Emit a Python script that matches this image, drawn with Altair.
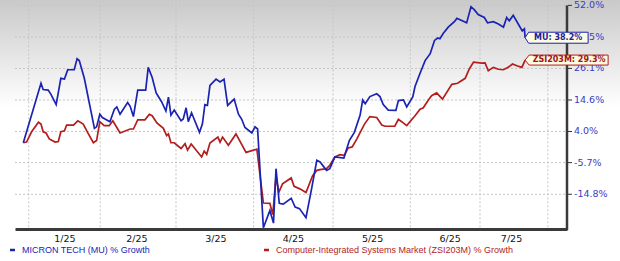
import altair as alt
import pandas as pd

# ---------------- data ----------------
# x unit: trading-session index from the start of the series
mu_t = [0.0, 4.9, 5.5, 6.9, 7.7, 9.1, 10.4, 11.4, 12.3, 14.1, 14.9, 15.5, 16.9, 19.7, 20.3, 21.2, 21.9, 24.0,
        25.2, 25.9, 26.8, 28.9, 29.6, 30.5, 31.7, 33.9, 34.6, 35.7, 36.8, 38.3, 39.5, 40.2, 40.9, 41.8, 43.7,
        44.3, 45.1, 45.7, 46.6, 48.8, 49.6, 50.3, 51.0, 51.7, 53.4, 54.5, 55.6, 56.6, 58.4, 59.6, 60.5, 61.4,
        63.3, 64.2, 64.9, 66.5, 68.3, 69.3, 70.0, 70.9, 72.0, 74.2, 75.3, 76.5, 78.3, 79.9, 81.3, 82.2, 84.0,
        84.9, 86.3, 88.8, 90.3, 91.7, 93.3, 94.0, 94.7, 96.0, 97.9, 98.8, 99.7, 101.1, 103.2, 103.9, 105.3,
        106.2, 107.9, 108.5, 109.9, 111.3, 112.7, 113.9, 114.8, 115.4, 116.3, 117.7, 119.4, 120.1, 121.0,
        122.8, 124.0, 124.9, 126.0, 127.7, 128.6, 130.2, 131.6, 133.0, 133.9, 134.6, 135.7, 137.1, 138.2,
        138.8, 139.0]
mu_g = [0.4, 20.6, 18.3, 18.1, 16.5, 13.0, 22.4, 22.1, 25.6, 25.6, 29.8, 29.1, 22.4, 5.0, 5.5, 9.7, 8.6, 7.2,
        11.3, 12.2, 9.7, 13.7, 12.4, 8.9, 18.1, 18.1, 26.5, 22.7, 17.1, 14.0, 10.8, 15.6, 9.4, 11.1, 7.5,
        8.1, 11.9, 7.2, 10.2, 3.7, 6.4, 13.0, 12.7, 19.8, 22.1, 21.1, 22.1, 12.7, 14.9, 9.7, 8.0, 5.3,
        3.5, 5.5, 4.8, -23.7, -19.2, -22.5, -7.5, -17.3, -17.5, -15.9, -18.3, -18.7, -21.1, -13.0, -5.0, -5.5, -8.0,
        -7.5, -4.0, -4.3, 1.1, 3.7, 9.4, 14.6, 13.3, 15.8, 16.8, 15.8, 13.0, 11.1, 11.0, 14.4, 14.6,
        12.2, 15.8, 19.4, 24.3, 29.1, 31.8, 37.1, 38.1, 37.8, 39.9, 42.6, 44.9, 46.3, 45.7,
        44.4, 51.4, 50.1, 48.0, 46.7, 44.4, 44.9, 43.9, 42.6, 46.7, 45.3, 47.6, 43.9, 41.0,
        41.9, 38.2]

zsi_t = [0.0, 0.9, 2.3, 4.2, 4.9, 5.5, 6.3, 7.2, 8.8, 9.7, 10.4, 11.4, 12.0, 13.9, 15.1, 16.6, 17.8, 19.4,
         20.3, 21.2, 22.4, 23.8, 24.8, 25.9, 26.8, 29.6, 30.5, 31.7, 33.7, 34.9, 35.7, 37.0, 38.8, 39.7, 40.2,
         40.9, 41.8, 43.7, 44.8, 45.5, 46.5, 49.4, 50.1, 50.8, 51.7, 53.9, 54.5, 55.2, 56.8, 58.9, 61.7, 64.7,
         66.5, 68.3, 69.1, 70.0, 70.8, 71.8, 74.2, 75.0, 76.6, 78.3, 80.1, 81.3, 82.2, 84.0, 84.9, 86.3, 87.7,
         88.9, 90.0, 91.1, 92.4, 94.5, 96.0, 97.9, 99.3, 100.2, 102.9, 103.9, 104.8, 106.2, 108.5, 109.9,
         110.8, 112.2, 113.1, 114.5, 116.1, 118.7, 120.3, 122.4, 123.5, 124.7, 127.0, 127.9, 128.8, 130.2,
         131.6, 133.0, 134.3, 135.5, 136.7, 138.1, 139.0]
zsi_g = [0.4, 0.6, 3.9, 7.0, 6.4, 3.9, 3.5, 1.6, 0.6, 0.8, 3.9, 4.2, 6.1, 6.1, 7.5, 6.4, 3.7, 0.4,
         1.1, 7.2, 5.9, 5.9, 7.5, 5.3, 3.5, 4.8, 4.8, 7.8, 7.8, 9.7, 9.2, 6.8, 5.0, 2.7, 3.2,
         0.4, 0.4, -1.4, 0.1, -1.9, 0.0, -4.0, -2.2, -3.2, 0.3, 2.2, 0.6, 2.2, -0.4, 3.2, -2.6, -1.6,
         -17.2, -17.3, -20.3, -9.8, -14.2, -11.9, -10.2, -12.6, -13.3, -14.3, -9.6, -8.0, -7.8, -7.5, -6.5, -4.0, -3.3,
         -3.5, -1.2, -0.9, 1.6, 6.4, 8.9, 8.6, 6.1, 5.7, 5.7, 8.0, 7.2, 5.9, 9.2, 11.4,
         11.9, 14.6, 16.1, 17.1, 14.9, 20.2, 20.6, 22.4, 25.8, 28.5, 28.1, 28.2, 25.2, 26.5,
         25.8, 25.6, 26.5, 27.8, 27.1, 26.5, 29.3]

short_names = ["MU", "ZSI203M"]
series_names = ["MICRON TECH (MU) % Growth",
                "Computer-Integrated Systems Market (ZSI203M) % Growth"]
colors = ["#1b23b3", "#b31d1d"]
label_text_colors = ["#1c1c96", "#a01414"]

y_ticks = [52.0, 38.5, 26.1, 14.6, 4.0, -5.7, -14.8]
x_labels = ["1/25", "2/25", "3/25", "4/25", "5/25", "6/25", "7/25"]
x_label_pos = [11.4, 31.3, 53.2, 74.7, 96.6, 118.1, 135.1]
x_grid_pos = [1.5, 21.3, 42.3, 63.8, 85.8, 107.2, 126.5, 145.3]

OFFSET = 125.0  # ratio-scale offset used by the axis
X_DOMAIN = [-2.3, 150.6]
Y_DOMAIN_G = [-24.0, 54.4]

# ---------------- layout ----------------
W, H = 552, 229
FONT = "DejaVu Sans"
GRID = "#c4c4c4"

rows = [{"t": t, "g": g, "s": short_names[0]} for t, g in zip(mu_t, mu_g)] + \
       [{"t": t, "g": g, "s": short_names[1]} for t, g in zip(zsi_t, zsi_g)]
df = pd.DataFrame(rows)

xscale = alt.Scale(domain=X_DOMAIN, nice=False, zero=False)
yscale = alt.Scale(type="log", domain=[Y_DOMAIN_G[0] + OFFSET, Y_DOMAIN_G[1] + OFFSET], nice=False, zero=False)

x_expr = "[" + ",".join(f"'{s}'" for s in x_labels) + "][indexof([" + ",".join(repr(v) for v in x_label_pos) + "], datum.value)]"

ax_x = alt.Axis(orient="bottom", values=x_label_pos, labelExpr=x_expr, ticks=False, grid=False,
                domain=True, domainColor="#3a3a3a", domainWidth=3, title=None,
                labelColor="#111111", labelFont=FONT, labelFontSize=9.5, labelPadding=4,
                labelAngle=0)

X = lambda f: alt.X(f, scale=xscale, axis=ax_x)
Y = lambda f: alt.Y(f, scale=yscale, axis=None)

# background gradient (gray at top fading to white)
bg = alt.Chart(alt.Data(values=[{}])).mark_rect(
    color=alt.Gradient(gradient="linear",
                       stops=[alt.GradientStop(offset=0, color="#c9c9c9"),
                              alt.GradientStop(offset=1, color="#ffffff")],
                       x1=0, x2=0, y1=0, y2=1)
).encode(x=alt.value(-15), x2=alt.value(605), y=alt.value(0), y2=alt.value(108))

tick_df = pd.DataFrame({"g": y_ticks, "label": [f"{v:.1f}%" for v in y_ticks]})
tick_base = alt.Chart(tick_df).transform_calculate(idx=f"datum.g + {OFFSET}")

# horizontal dotted gridlines
hgrid = tick_base.mark_rule(color=GRID, strokeDash=[2, 2], strokeWidth=1).encode(
    x=alt.value(0), x2=alt.value(W), y=Y("idx:Q"))

# vertical dotted gridlines
vgrid = alt.Chart(pd.DataFrame({"t": x_grid_pos})).transform_calculate(
    idx=str(y_ticks[0] + OFFSET)
).mark_rule(color=GRID, strokeDash=[2, 2], strokeWidth=1).encode(
    x=X("t:Q"), y=Y("idx:Q"), y2=alt.value(H),
)

# main lines
lines = alt.Chart(df).transform_calculate(
    idx=f"datum.g + {OFFSET}"
).mark_line(strokeWidth=1.7).encode(
    x=X("t:Q"), y=Y("idx:Q"),
    color=alt.Color("s:N", scale=alt.Scale(domain=short_names, range=colors), legend=None),
    order=alt.Order("t:Q"),
)
lines_zsi = lines.transform_filter(alt.datum.s == short_names[1])
lines_mu = lines.transform_filter(alt.datum.s == short_names[0])

# right axis: line, ticks, labels
raxis = alt.Chart(alt.Data(values=[{}])).transform_calculate(
    idx=str(y_ticks[0] + OFFSET)
).mark_rule(color="#3a3a3a", strokeWidth=2.5).encode(
    x=alt.value(W), y=Y("idx:Q"), y2=alt.value(H + 1)
)
rticks = tick_base.mark_rule(color="#333333", strokeWidth=1).encode(
    x=alt.value(W + 1), x2=alt.value(W + 5), y=Y("idx:Q"))
rlabels = tick_base.mark_text(align="left", baseline="middle", font=FONT, fontSize=9.5,
                              color="#3b3bc2").encode(x=alt.value(W + 7), y=Y("idx:Q"), text="label:N")

# end-of-line callouts
call_layers = []
box_paths = ["M0,0 L0.35,-0.55 L6.3,-0.55 L6.3,0.55 L0.35,0.55 Z",
             "M0,0 L0.4,-0.5 L8.3,-0.5 L8.3,0.5 L0.4,0.5 Z"]
text_dx = [33, 44]
ends = [(mu_t[-1], mu_g[-1]), (zsi_t[-1], zsi_g[-1])]
for i in range(2):
    cdf = pd.DataFrame({"t": [ends[i][0]], "g": [ends[i][1]],
                        "label": [f"{short_names[i]}: {ends[i][1]:.1f}%"]})
    base = alt.Chart(cdf).transform_calculate(idx=f"datum.g + {OFFSET}")
    enc = dict(x=X("t:Q"), y=Y("idx:Q"))
    box = base.mark_point(shape=box_paths[i], size=400, filled=True, fill="#fdfbe2", fillOpacity=1,
                          stroke=colors[i], strokeWidth=1, opacity=1).encode(**enc)
    txt = base.mark_text(align="center", baseline="middle", dx=text_dx[i], font=FONT, fontSize=8,
                         fontWeight="bold", color=label_text_colors[i]).encode(text="label:N", **enc)
    call_layers += [box, txt]

# legend (bottom)
leg_layers = []
leg_x = [-5, 249]
for i in range(2):
    dash = alt.Chart(alt.Data(values=[{}])).mark_rule(color=colors[i], strokeWidth=2.5).encode(
        x=alt.value(leg_x[i]), x2=alt.value(leg_x[i] + 5), y=alt.value(250))
    lab = alt.Chart(alt.Data(values=[{}])).mark_text(
        align="left", baseline="middle", font="Liberation Sans", fontSize=9, color=colors[i],
        text=series_names[i]).encode(x=alt.value(leg_x[i] + 12), y=alt.value(250))
    leg_layers += [dash, lab]

chart = alt.layer(bg, hgrid, vgrid, lines_zsi, lines_mu, raxis, rticks, rlabels,
                  *call_layers, *leg_layers).properties(
    width=W, height=H,
    padding={"left": 15, "top": 0, "right": 53, "bottom": 32},
    autosize=alt.AutoSizeParams(type="none"),
    background="#ffffff",
).configure_view(stroke=None)

chart.save("out.html", embed_options={"renderer": "svg", "actions": False})
